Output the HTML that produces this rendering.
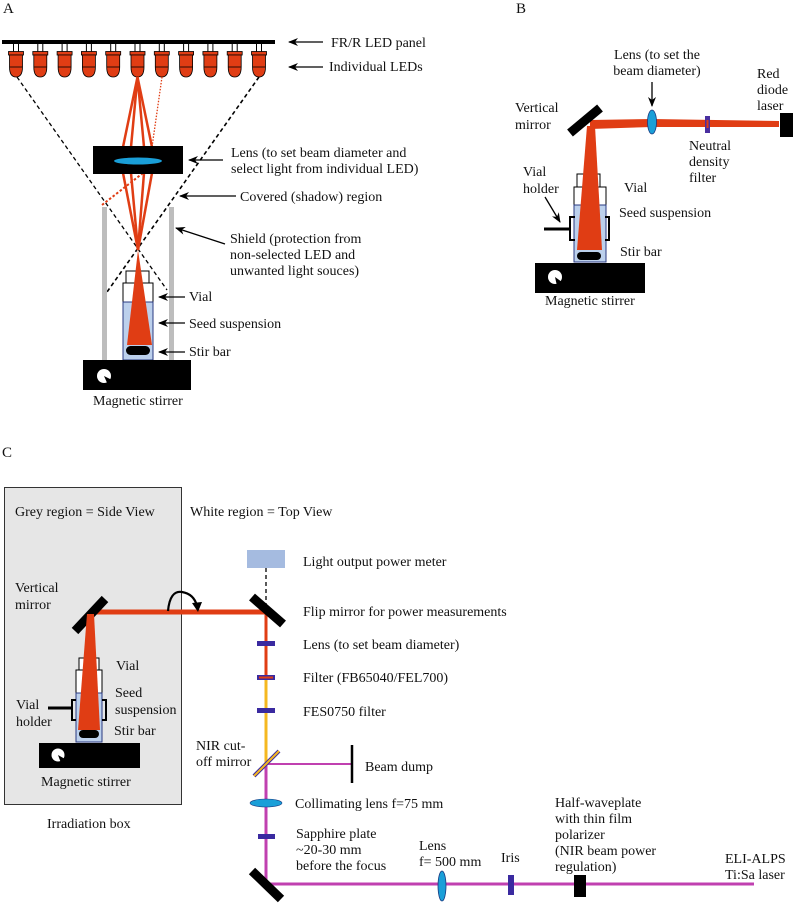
<!DOCTYPE html>
<html><head><meta charset="utf-8"><style>
html,body{margin:0;padding:0;background:#fff;}
svg{display:block;}
text{font-family:"Liberation Serif",serif;font-size:14px;fill:#111;}
</style></head><body>
<svg width="794" height="906" viewBox="0 0 794 906" xmlns="http://www.w3.org/2000/svg">
<defs>
<marker id="ah" markerWidth="10" markerHeight="8" refX="9" refY="4" orient="auto" markerUnits="userSpaceOnUse"><path d="M0,0 L10,4 L0,8 L3,4 Z" fill="#000"/></marker>
<g id="led">
<line x1="-2.5" y1="43" x2="-2.5" y2="52" stroke="#000" stroke-width="1"/>
<line x1="2.5" y1="43" x2="2.5" y2="52" stroke="#000" stroke-width="1"/>
<rect x="-7.5" y="51.5" width="15" height="3.5" fill="#e03d14" stroke="#000" stroke-width="0.8"/>
<path d="M-6.5,55 L6.5,55 L6.5,67 Q6.5,77 0,77 Q-6.5,77 -6.5,67 Z" fill="#e03d14" stroke="#000" stroke-width="0.8"/>
<line x1="-6.5" y1="67" x2="6.5" y2="67" stroke="#000" stroke-width="0.8"/>
</g>
</defs>

<!-- ===== Panel A ===== -->
<text x="3" y="13" style="font-size:15px">A</text>
<rect x="2" y="40" width="273" height="4" fill="#000"/>
<use href="#led" x="16"/><use href="#led" x="40.3"/><use href="#led" x="64.6"/><use href="#led" x="88.9"/><use href="#led" x="113.2"/><use href="#led" x="137.5"/><use href="#led" x="161.8"/><use href="#led" x="186.1"/><use href="#led" x="210.4"/><use href="#led" x="234.7"/><use href="#led" x="259"/>

<line x1="17" y1="77" x2="167" y2="290" stroke="#000" stroke-width="1.3" stroke-dasharray="4,3"/>
<line x1="259" y1="77" x2="107" y2="292" stroke="#000" stroke-width="1.6" stroke-dasharray="4,3"/>

<rect x="102" y="207" width="5" height="153" fill="#bdbdbd"/>
<rect x="169" y="207" width="5" height="153" fill="#bdbdbd"/>

<g stroke="#e03d14" stroke-width="2.5" fill="none">
<line x1="137.5" y1="77" x2="123" y2="147"/>
<line x1="137.5" y1="77" x2="152" y2="147"/>
<line x1="137.5" y1="77" x2="131" y2="147"/>
<line x1="137.5" y1="77" x2="144" y2="147"/>
<line x1="123" y1="173" x2="138" y2="250"/>
<line x1="152" y1="173" x2="138" y2="250"/>
<line x1="131" y1="173" x2="138" y2="250"/>
<line x1="144" y1="173" x2="138" y2="250"/>
</g>
<line x1="162" y1="77" x2="152" y2="147" stroke="#e03d14" stroke-width="1.3" stroke-dasharray="1.5,1.5"/>
<line x1="143" y1="173" x2="102" y2="205" stroke="#e03d14" stroke-width="2" stroke-dasharray="2.5,2"/>

<rect x="93" y="146" width="90" height="28" fill="#000"/>
<ellipse cx="138" cy="161" rx="24" ry="3.5" fill="#1a9fd8"/>

<rect x="126" y="271" width="23" height="12" fill="#fff" stroke="#000" stroke-width="1"/>
<rect x="123" y="283" width="30" height="19" fill="#fff" stroke="#000" stroke-width="1"/>
<rect x="123" y="302" width="30" height="58" fill="#bcd0ec" stroke="#2a3a80" stroke-width="1"/>
<polygon points="138,250 127,345 152,345" fill="#e03d14"/>
<rect x="126" y="346" width="24" height="9" rx="4.5" fill="#000"/>
<rect x="83" y="360" width="108" height="30" fill="#000"/>
<circle cx="104" cy="376" r="7" fill="#fff"/>
<path d="M104,376 L112,380 L108,385 Z" fill="#000"/>
<text x="93" y="405">Magnetic stirrer</text>

<g stroke="#000" stroke-width="1.3" marker-end="url(#ah)">
<line x1="323" y1="42" x2="289" y2="42"/>
<line x1="323" y1="67" x2="289" y2="67"/>
<line x1="223" y1="160" x2="189" y2="160"/>
<line x1="236" y1="196" x2="180" y2="196"/>
<line x1="225" y1="244" x2="176" y2="228"/>
<line x1="185" y1="297" x2="159" y2="297"/>
<line x1="185" y1="323" x2="159" y2="323"/>
<line x1="185" y1="352" x2="159" y2="352"/>
</g>
<text x="331" y="47">FR/R LED panel</text>
<text x="329" y="71">Individual LEDs</text>
<text x="231" y="157">Lens (to set beam diameter and</text>
<text x="231" y="173">select light from individual LED)</text>
<text x="240" y="201">Covered (shadow) region</text>
<text x="230" y="243">Shield (protection from</text>
<text x="230" y="259">non-selected LED and</text>
<text x="230" y="275">unwanted light souces)</text>
<text x="189" y="301">Vial</text>
<text x="189" y="328">Seed suspension</text>
<text x="189" y="356">Stir bar</text>

<!-- ===== Panel B ===== -->
<text x="516" y="13" style="font-size:15px">B</text>
<polygon points="590,120 652,119 779,121 779,127 652,127 590,129" fill="#e03d14"/>
<ellipse cx="652" cy="122" rx="4.5" ry="12" fill="#1a9fd8" stroke="#1a3a80" stroke-width="0.8"/>
<rect x="705" y="116" width="5" height="17" fill="#4a2fa0"/>
<rect x="706.5" y="120" width="2" height="8" fill="#e03d14"/>
<rect x="780" y="113" width="13" height="24" fill="#000"/>
<line x1="570" y1="133" x2="600" y2="108" stroke="#000" stroke-width="9"/>
<rect x="577" y="174" width="23" height="13" fill="#fff" stroke="#000" stroke-width="1"/>
<rect x="574" y="187" width="32" height="18" fill="#fff" stroke="#000" stroke-width="1"/>
<rect x="574" y="205" width="32" height="57" fill="#bcd0ec" stroke="#2a3a80" stroke-width="1"/>
<polygon points="587,126 595,126 602,250 577,250" fill="#e03d14"/>
<rect x="577" y="252" width="24" height="8" rx="4" fill="#000"/>
<path d="M575,217 L570,217 L570,240 L575,240" fill="none" stroke="#000" stroke-width="2"/>
<path d="M605,217 L609,217 L609,240 L605,240" fill="none" stroke="#000" stroke-width="2"/>
<line x1="544" y1="229" x2="570" y2="229" stroke="#000" stroke-width="3"/>
<line x1="545" y1="197" x2="560" y2="222" stroke="#000" stroke-width="1.3" marker-end="url(#ah)"/>
<rect x="535" y="263" width="110" height="30" fill="#000"/>
<circle cx="555" cy="277" r="7" fill="#fff"/>
<path d="M555,277 L562,282 L557,286 Z" fill="#000"/>
<line x1="652" y1="82" x2="652" y2="106" stroke="#000" stroke-width="1.3" marker-end="url(#ah)"/>
<text x="657" y="59" text-anchor="middle">Lens (to set the</text>
<text x="657" y="75" text-anchor="middle">beam diameter)</text>
<text x="757" y="78">Red</text>
<text x="757" y="94">diode</text>
<text x="757" y="110">laser</text>
<text x="515" y="112">Vertical</text>
<text x="515" y="129">mirror</text>
<text x="689" y="150">Neutral</text>
<text x="689" y="166">density</text>
<text x="689" y="182">filter</text>
<text x="523" y="176">Vial</text>
<text x="523" y="193">holder</text>
<text x="624" y="192">Vial</text>
<text x="619" y="217">Seed suspension</text>
<text x="620" y="256">Stir bar</text>
<text x="545" y="305">Magnetic stirrer</text>

<!-- ===== Panel C ===== -->
<text x="2" y="457" style="font-size:15px">C</text>
<rect x="4.5" y="487.5" width="177" height="317" fill="#e6e6e6" stroke="#333" stroke-width="1"/>
<text x="15" y="516">Grey region = Side View</text>
<text x="190" y="516">White region = Top View</text>
<rect x="247" y="550" width="38" height="18" fill="#a5bbe0"/>
<text x="303" y="566">Light output power meter</text>
<line x1="266" y1="568" x2="266" y2="604" stroke="#000" stroke-width="1.3" stroke-dasharray="4,3"/>

<line x1="92" y1="612" x2="266" y2="612" stroke="#e03d14" stroke-width="5"/>
<line x1="266" y1="612" x2="266" y2="678" stroke="#e03d14" stroke-width="3"/>
<line x1="266" y1="678" x2="266" y2="763" stroke="#f5b820" stroke-width="3"/>
<line x1="266" y1="763" x2="266" y2="884" stroke="#c040b0" stroke-width="3"/>
<line x1="266" y1="764" x2="351" y2="764" stroke="#c040b0" stroke-width="2"/>
<line x1="266" y1="884" x2="754" y2="884" stroke="#c040b0" stroke-width="3"/>
<line x1="352" y1="745" x2="352" y2="783" stroke="#000" stroke-width="2.5"/>

<line x1="75" y1="631" x2="105" y2="599" stroke="#000" stroke-width="9"/>
<line x1="252" y1="597" x2="283" y2="624" stroke="#000" stroke-width="9"/>
<line x1="252" y1="871" x2="281" y2="899" stroke="#000" stroke-width="9"/>
<line x1="254" y1="776" x2="279" y2="751" stroke="#3a2aa0" stroke-width="4"/>
<line x1="254" y1="776" x2="279" y2="751" stroke="#f5b820" stroke-width="2"/>

<path d="M168,611 Q170,590 182,592 Q194,594 197,606" fill="none" stroke="#000" stroke-width="2.2"/>
<path d="M192,603 L198,612 L202,602 Z" fill="#000"/>

<rect x="257" y="641" width="18" height="5" fill="#3a2aa0"/>
<rect x="257" y="675" width="18" height="5" fill="#3a2aa0"/>
<rect x="259" y="676.5" width="14" height="2" fill="#e03d14"/>
<rect x="257" y="708" width="18" height="5" fill="#3a2aa0"/>
<ellipse cx="266" cy="803" rx="16" ry="4" fill="#1a9fd8" stroke="#1a3a80" stroke-width="0.6"/>
<rect x="258" y="834" width="17" height="5" fill="#3a2aa0"/>
<ellipse cx="442" cy="886" rx="4" ry="15" fill="#1a9fd8" stroke="#1a3a80" stroke-width="0.8"/>
<rect x="508" y="875" width="6" height="20" fill="#3a2aa0"/>
<rect x="574" y="875" width="12" height="22" fill="#000"/>

<rect x="79" y="658" width="20" height="12" fill="#fff" stroke="#000" stroke-width="1"/>
<rect x="76" y="670" width="26" height="23" fill="#fff" stroke="#000" stroke-width="1"/>
<rect x="76" y="693" width="26" height="49" fill="#bcd0ec" stroke="#2a3a80" stroke-width="1"/>
<polygon points="87,614 94,614 100,730 78,730" fill="#e03d14"/>
<rect x="79" y="730" width="20" height="8" rx="4" fill="#000"/>
<path d="M76,700 L72,700 L72,720 L76,720" fill="none" stroke="#000" stroke-width="2"/>
<path d="M102,700 L106,700 L106,720 L102,720" fill="none" stroke="#000" stroke-width="2"/>
<line x1="48" y1="708" x2="72" y2="708" stroke="#000" stroke-width="3"/>
<rect x="39" y="743" width="101" height="25" fill="#000"/>
<circle cx="58" cy="755" r="6.5" fill="#fff"/>
<path d="M58,755 L65,759 L61,763 Z" fill="#000"/>

<text x="15" y="592">Vertical</text>
<text x="15" y="609">mirror</text>
<text x="116" y="670">Vial</text>
<text x="115" y="697">Seed</text>
<text x="115" y="714">suspension</text>
<text x="16" y="709">Vial</text>
<text x="16" y="726">holder</text>
<text x="114" y="735">Stir bar</text>
<text x="41" y="786">Magnetic stirrer</text>
<text x="47" y="828">Irradiation box</text>

<text x="303" y="616">Flip mirror for power measurements</text>
<text x="303" y="649">Lens (to set beam diameter)</text>
<text x="303" y="682">Filter (FB65040/FEL700)</text>
<text x="303" y="716">FES0750 filter</text>
<text x="196" y="750">NIR cut-</text>
<text x="196" y="766">off mirror</text>
<text x="365" y="771">Beam dump</text>
<text x="295" y="808">Collimating lens f=75 mm</text>
<text x="296" y="838">Sapphire plate</text>
<text x="296" y="854">~20-30 mm</text>
<text x="296" y="870">before the focus</text>
<text x="419" y="850">Lens</text>
<text x="419" y="866">f= 500 mm</text>
<text x="501" y="862">Iris</text>
<text x="555" y="807">Half-waveplate</text>
<text x="555" y="823">with thin film</text>
<text x="555" y="839">polarizer</text>
<text x="555" y="855">(NIR beam power</text>
<text x="555" y="871">regulation)</text>
<text x="725" y="863">ELI-ALPS</text>
<text x="725" y="879">Ti:Sa laser</text>
</svg>
</body></html>
